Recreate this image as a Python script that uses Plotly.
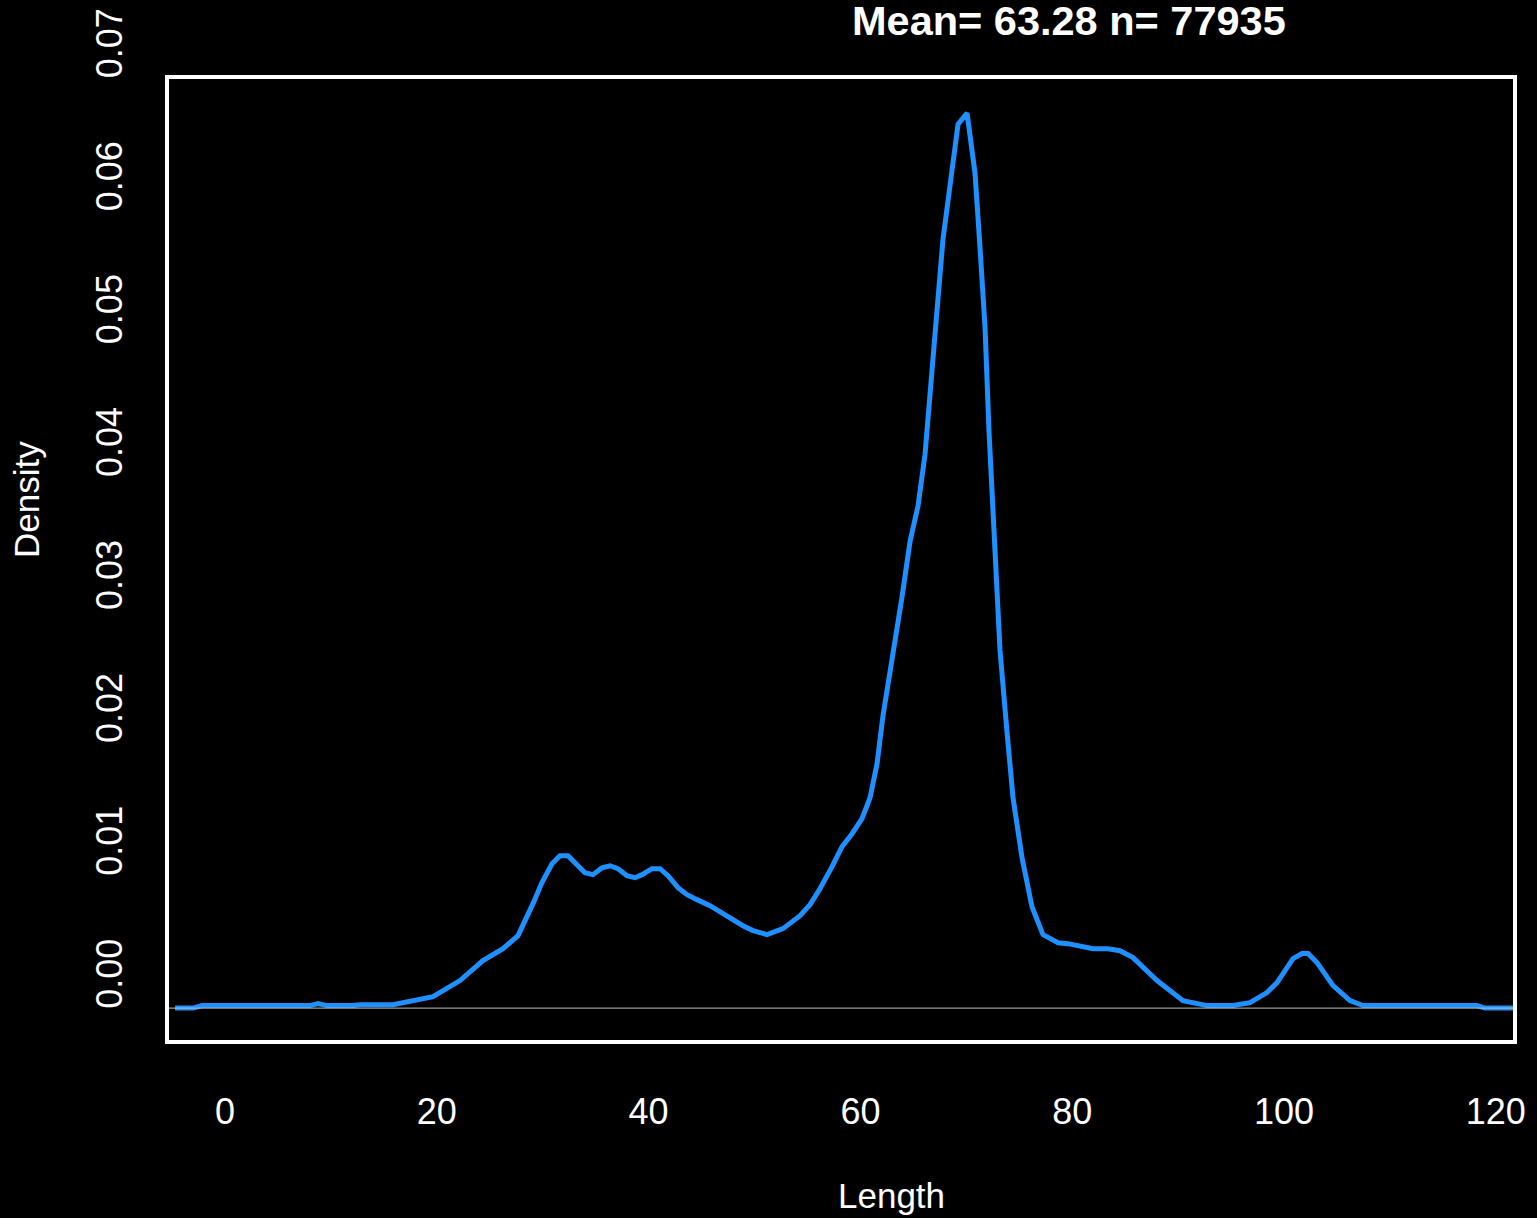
import plotly.graph_objects as go

# Density curve values
length_x = [-4.72, -3.02, -2.17, 8.03, 8.78, 9.63, 12.09, 12.75, 15.86, 17.75, 19.64, 22.19,
            24.36, 26.25, 27.67, 29.08, 29.93, 30.88, 31.63, 32.39, 33.99, 34.75, 35.60, 36.36,
            37.11, 37.96, 38.72, 39.38, 40.32, 41.08, 41.83, 42.78, 43.63, 44.57, 45.80, 47.03,
            48.16, 48.91, 49.86, 51.18, 52.69, 54.30, 55.24, 56.18, 57.32, 58.26, 59.21, 60.15,
            60.91, 61.57, 62.13, 62.98, 63.93, 64.68, 65.44, 66.10, 66.76, 67.33, 67.80, 68.46,
            69.22, 70.07, 70.82, 71.29, 71.77, 72.14, 72.71, 73.18, 73.84, 74.41, 75.26, 76.20,
            77.24, 78.66, 79.60, 81.96, 83.38, 84.51, 85.74, 88.01, 90.46, 92.73, 95.18, 96.79,
            98.39, 99.34, 100.85, 101.70, 102.27, 103.12, 104.63, 106.23, 107.46, 118.22, 118.98,
            121.62]
density_y = [0.00000, 0.00000, 0.00019, 0.00019, 0.00034, 0.00019, 0.00019, 0.00026, 0.00026,
             0.00056, 0.00086, 0.00207, 0.00357, 0.00447, 0.00545, 0.00786, 0.00944, 0.01086,
             0.01147, 0.01147, 0.01019, 0.01004, 0.01056, 0.01071, 0.01049, 0.00996, 0.00981,
             0.01004, 0.01049, 0.01049, 0.00996, 0.00906, 0.00853, 0.00816, 0.00771, 0.00711,
             0.00650, 0.00620, 0.00583, 0.00553, 0.00598, 0.00695, 0.00778, 0.00898, 0.01064,
             0.01214, 0.01312, 0.01425, 0.01583, 0.01838, 0.02199, 0.02613, 0.03094, 0.03508,
             0.03778, 0.04165, 0.04752, 0.05342, 0.05786, 0.06169, 0.06650, 0.06733, 0.06282,
             0.05726, 0.05117, 0.04342, 0.03432, 0.02695, 0.02079, 0.01583, 0.01132, 0.00763,
             0.00553, 0.00492, 0.00485, 0.00447, 0.00447, 0.00432, 0.00380, 0.00207, 0.00056,
             0.00019, 0.00019, 0.00041, 0.00117, 0.00192, 0.00372, 0.00410, 0.00410, 0.00342,
             0.00169, 0.00056, 0.00019, 0.00019, 0.00000, 0.00000]

x_ticks = [0, 20, 40, 60, 80, 100, 120]
x_ticklabels = ["0", "20", "40", "60", "80", "100", "120"]
y_ticks = [0.00, 0.01, 0.02, 0.03, 0.04, 0.05, 0.06, 0.07]
y_ticklabels = ["0.00", "0.01", "0.02", "0.03", "0.04", "0.05", "0.06", "0.07"]

title_text = "Mean= 63.28 n= 77935"
x_title = "Length"
y_title = "Density"

FONT = "Liberation Sans, Arial, Helvetica, sans-serif"

fig = go.Figure()
fig.add_trace(go.Scatter(
    x=length_x, y=density_y, mode="lines",
    line=dict(color="#1E90FF", width=5),
    hoverinfo="skip", showlegend=False,
))

fig.update_layout(
    width=1537, height=1218,
    margin=dict(l=167, r=22, t=77, b=176, pad=0, autoexpand=False),
    paper_bgcolor="black", plot_bgcolor="black",
    font=dict(family=FONT, color="white", size=36),
    showlegend=False,
    xaxis=dict(
        range=[-5.477, 121.81], tickvals=x_ticks, ticktext=x_ticklabels,
        showgrid=False, zeroline=False, showline=False, ticks="",
        tickfont=dict(size=36, color="white", family=FONT),
        ticklabelstandoff=45, automargin=False,
    ),
    yaxis=dict(
        range=[-0.00255, 0.07005], tickvals=y_ticks, ticktext=y_ticklabels,
        showgrid=False, zeroline=False, showline=False, ticks="",
        tickangle=-90, ticklabelshift=-29, ticklabelstandoff=37,
        tickfont=dict(size=36, color="white", family=FONT),
        automargin=False,
    ),
    shapes=[
        dict(type="line", xref="paper", yref="y", x0=0, x1=1, y0=0, y1=0,
             line=dict(color="#bebebe", width=1), layer="above"),
        dict(type="rect", xref="paper", yref="paper", x0=0, x1=1, y0=0, y1=1,
             line=dict(color="white", width=4), layer="above"),
    ],
    annotations=[
        dict(text="<b>" + title_text + "</b>", xref="paper", yref="paper",
             x=(1069 - 167) / 1348, y=(1042 - 21) / 965, xanchor="center", yanchor="middle",
             showarrow=False, font=dict(size=41.5, color="white", family=FONT)),
        dict(text=x_title, xref="paper", yref="paper",
             x=(892 - 167) / 1348, y=(1042 - 1195) / 965, xanchor="center", yanchor="middle",
             showarrow=False, font=dict(size=35, color="white", family=FONT)),
        dict(text=y_title, xref="paper", yref="paper", textangle=-90,
             x=(26 - 167) / 1348, y=(1042 - 500) / 965, xanchor="center", yanchor="middle",
             showarrow=False, font=dict(size=35, color="white", family=FONT)),
    ],
)

fig.write_html(
    "out.html",
    config={"displayModeBar": False},
    post_script="document.body.style.margin='0px';document.body.style.background='black';",
)
